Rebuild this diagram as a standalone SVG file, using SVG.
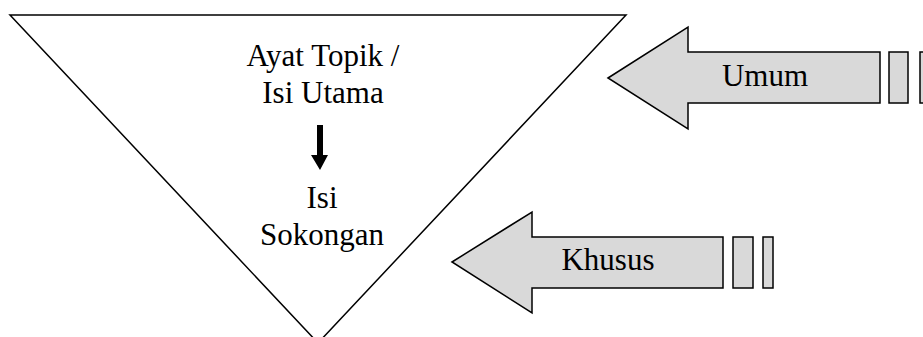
<svg xmlns="http://www.w3.org/2000/svg" width="923" height="337" viewBox="0 0 923 337">
<style>
.t{font-family:"Liberation Serif","Times New Roman",serif;font-size:31px;fill:#000;text-anchor:middle}
.ar{fill:#d9d9d9;stroke:#000;stroke-width:1.5;stroke-linejoin:miter}
.tri{fill:#fff;stroke:#000;stroke-width:1.5}
</style>
<rect width="923" height="337" fill="#fff"/>
<g id="triangle">
<polygon class="tri" points="10,15 626,15 318,343"/>
<text class="t" x="323" y="66">Ayat Topik /</text>
<text class="t" x="323" y="103">Isi Utama</text>
<text class="t" x="322" y="208">Isi</text>
<text class="t" x="322" y="245">Sokongan</text>
</g>
<g id="connectors">
<polygon points="317,125 323,125 323,155 328,155 320,170 311,155 317,155" fill="#000"/>
</g>
<g id="umum">
<polygon class="ar" points="608,78 688,27 688,52 880,52 880,103 688,103 688,129"/>
<rect class="ar" x="889" y="52" width="19" height="51"/>
<rect class="ar" x="920" y="52" width="10" height="51"/>
<text class="t" x="765" y="86">Umum</text>
</g>
<g id="khusus">
<polygon class="ar" points="452,262 532,212 532,237 723,237 723,288 532,288 532,313"/>
<rect class="ar" x="733" y="237" width="20" height="51"/>
<rect class="ar" x="763" y="237" width="10" height="51"/>
<text class="t" x="608" y="270">Khusus</text>
</g>
</svg>
